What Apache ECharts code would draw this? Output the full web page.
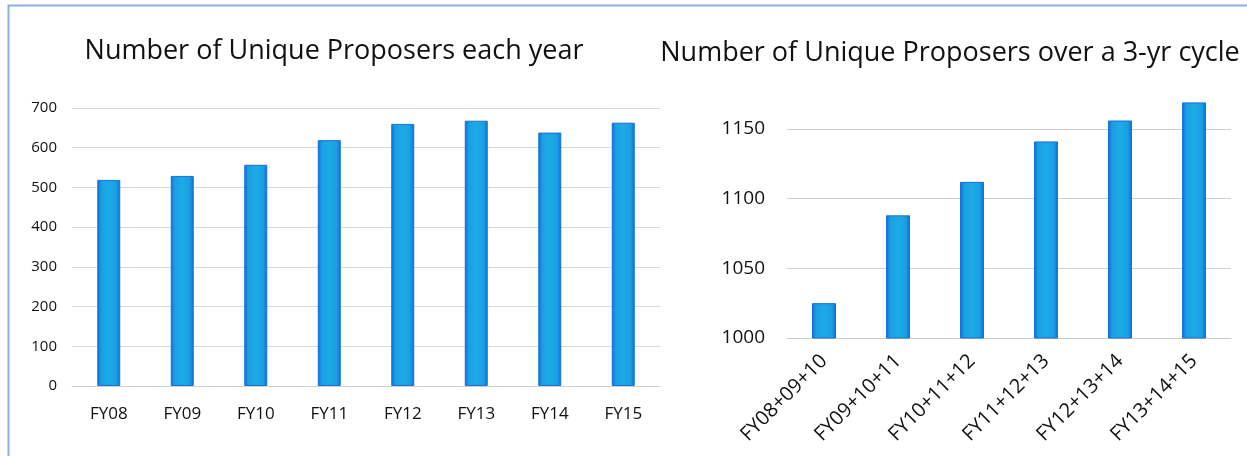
<!DOCTYPE html>
<html>
<head>
<meta charset="utf-8">
<script src="https://cdn.jsdelivr.net/npm/echarts@6/dist/echarts.min.js"></script>
<style>
html,body{margin:0;padding:0;background:#fff;}
#chart{width:1247px;height:456px;}
</style>
</head>
<body>
<div id="chart"></div>
<script>
// Data
const yearCategories = ['FY08','FY09','FY10','FY11','FY12','FY13','FY14','FY15'];
const yearValues = [519, 529, 557, 619, 660, 668, 638, 663];
const cycleCategories = ['FY08+09+10','FY09+10+11','FY10+11+12','FY11+12+13','FY12+13+14','FY13+14+15'];
const cycleValues = [1025, 1088, 1112, 1141, 1156, 1169];
const leftTitle = 'Number of Unique Proposers each year';
const rightTitle = 'Number of Unique Proposers over a 3-yr cycle';

const FONT = '"Open Sans", "Liberation Sans", sans-serif';
const barFill = {
  type: 'linear', x: 0, y: 0, x2: 1, y2: 0,
  colorStops: [
    {offset: 0, color: '#0c6ed6'},
    {offset: 0.18, color: '#1a9fe3'},
    {offset: 0.5, color: '#1caae6'},
    {offset: 0.82, color: '#1a9fe3'},
    {offset: 1, color: '#0c6ed6'}
  ]
};
const barStyle = {color: barFill, borderColor: '#1870d8', borderWidth: 1};

const chart = echarts.init(document.getElementById('chart'), null, {renderer: 'canvas'});
chart.setOption({
  backgroundColor: '#ffffff',
  animation: false,
  title: [
    {text: leftTitle, left: 329, top: 33, textAlign: 'center',
     textStyle: {fontFamily: FONT, fontSize: 27, fontWeight: 'normal', color: '#111'}},
    {text: rightTitle, left: 945, top: 35, textAlign: 'center',
     textStyle: {fontFamily: FONT, fontSize: 27, fontWeight: 'normal', color: '#111'}}
  ],
  graphic: [
    {type: 'polyline', silent: true,
     shape: {points: [[8.5, 456], [8.5, 5.5], [1247, 5.5]]},
     style: {stroke: '#8ab0e0', lineWidth: 2, fill: null}}
  ],
  grid: [
    {left: 72, right: 587, top: 108, bottom: 70},
    {left: 787, right: 16, top: 101, bottom: 118}
  ],
  xAxis: [
    {type: 'category', gridIndex: 0, data: yearCategories,
     axisLine: {lineStyle: {color: '#d0d0d0', width: 1}},
     axisTick: {show: false},
     axisLabel: {fontFamily: FONT, fontSize: 17, color: '#111', margin: 20}},
    {type: 'category', gridIndex: 1, data: cycleCategories,
     axisLine: {lineStyle: {color: '#c8c8c8', width: 1}},
     axisTick: {show: false},
     axisLabel: {fontFamily: FONT, fontSize: 20, color: '#111', rotate: 45, margin: 20}}
  ],
  yAxis: [
    {type: 'value', gridIndex: 0, min: 0, max: 700, interval: 100,
     axisLine: {show: false}, axisTick: {show: false},
     splitLine: {lineStyle: {color: '#d9d9d9', width: 1}},
     axisLabel: {fontFamily: FONT, fontSize: 15, color: '#111', margin: 15}},
    {type: 'value', gridIndex: 1, min: 1000, max: 1170, interval: 50,
     axisLine: {show: false}, axisTick: {show: false},
     splitLine: {lineStyle: {color: '#d0d0d0', width: 1}, showMaxLine: false},
     axisLabel: {fontFamily: FONT, fontSize: 19, color: '#111', margin: 22, showMaxLabel: false,
                 formatter: function (v) { return String(v); }}}
  ],
  series: [
    {type: 'bar', xAxisIndex: 0, yAxisIndex: 0, data: yearValues, barWidth: 23, itemStyle: barStyle},
    {type: 'bar', xAxisIndex: 1, yAxisIndex: 1, data: cycleValues, barWidth: 24, itemStyle: barStyle}
  ]
});
</script>
</body>
</html>
